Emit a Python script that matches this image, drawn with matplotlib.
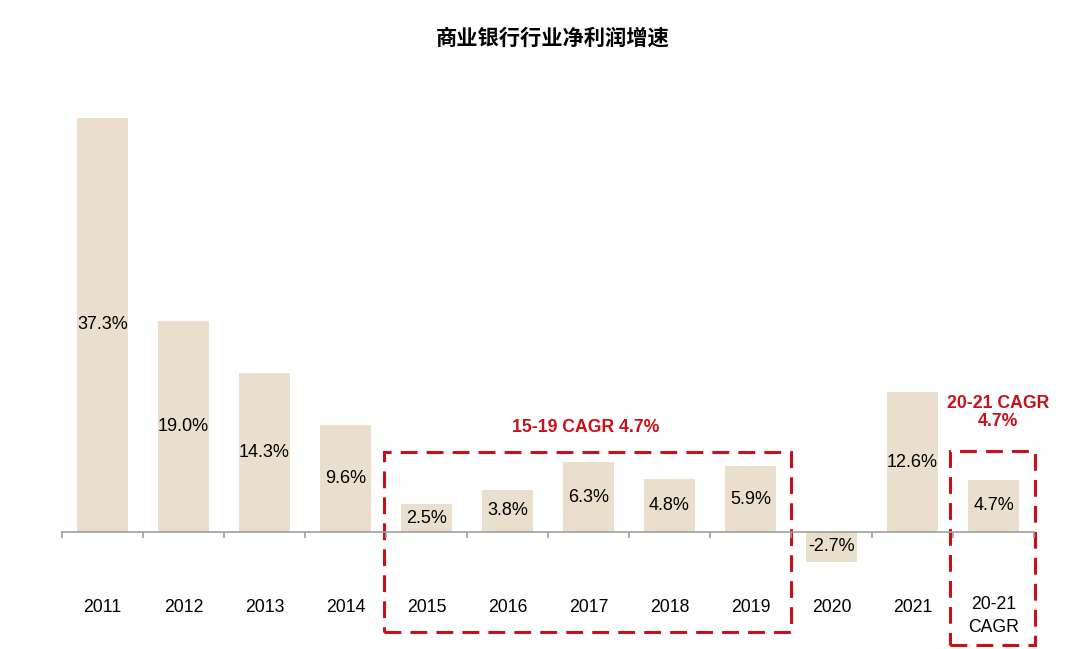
import numpy as np
import matplotlib
matplotlib.use('Agg')
import matplotlib.pyplot as plt
from matplotlib.patches import Rectangle

plt.rcParams['font.family'] = ['Liberation Sans', 'Noto Sans CJK SC', 'DejaVu Sans']

title = '商业银行行业净利润增速'
categories = ['2011', '2012', '2013', '2014', '2015', '2016', '2017', '2018',
              '2019', '2020', '2021', '20-21\nCAGR']
growth = [37.3, 19.0, 14.3, 9.6, 2.5, 3.8, 6.3, 4.8, 5.9, -2.7, 12.6, 4.7]
note_1519 = '15-19 CAGR 4.7%'
note_2021 = '20-21 CAGR\n4.7%'

bar_color = '#EADFCC'
red = '#C8101A'

fig = plt.figure(figsize=(10.8, 6.49), dpi=100)
ax = fig.add_axes([62 / 1080, 0.0777, 972 / 1080, 0.7697])

x = np.arange(len(categories))
ax.bar(x, growth, width=0.62, color=bar_color)

for xi, v in zip(x, growth):
    ax.text(xi, v / 2, f'{v:.1f}%', ha='center', va='center', fontsize=13)

for xi, lab in zip(x, categories):
    if '\n' in lab:
        ax.text(xi, -7.57, lab, ha='center', va='center', fontsize=12.7,
                linespacing=1.45)
    else:
        ax.text(xi, -6.76, lab, ha='center', va='center', fontsize=12.7)

ax.set_xlim(-0.5, len(categories) - 0.5)
ax.set_ylim(-6, 39)

# axis line at zero with boundary ticks
for s in ['top', 'right', 'left']:
    ax.spines[s].set_visible(False)
ax.spines['bottom'].set_position(('data', 0))
ax.spines['bottom'].set_color('#A0A0A0')
ax.spines['bottom'].set_linewidth(1.2)
ax.set_xticks(np.arange(-0.5, len(categories), 1.0))
ax.set_xticklabels([])
ax.tick_params(axis='x', direction='out', length=4, color='#A0A0A0', width=1.2)
ax.set_yticks([])

# dashed highlight boxes
box1 = Rectangle((3.47, -9.0), 8.5 - 3.47, 16.2, fill=False, edgecolor=red,
                 linewidth=2.2, linestyle=(0, (5.5, 3)), clip_on=False)
box2 = Rectangle((10.46, -10.2), 11.51 - 10.46, 17.5, fill=False, edgecolor=red,
                 linewidth=2.2, linestyle=(0, (5.5, 3)), clip_on=False)
ax.add_patch(box1)
ax.add_patch(box2)

ax.text(5.97, 9.45, note_1519, ha='center', va='center', color=red,
        fontsize=12.7, fontweight='bold')
ax.text(11.06, 10.75, note_2021, ha='center', va='center', color=red,
        fontsize=12.7, fontweight='bold', linespacing=1.1)

fig.text(553 / 1080, 1 - 38 / 649, title, ha='center', va='center', fontsize=15.3,
         fontweight='bold', family=['Noto Sans CJK SC', 'DejaVu Sans'])

fig.savefig('out.png', dpi=100)
